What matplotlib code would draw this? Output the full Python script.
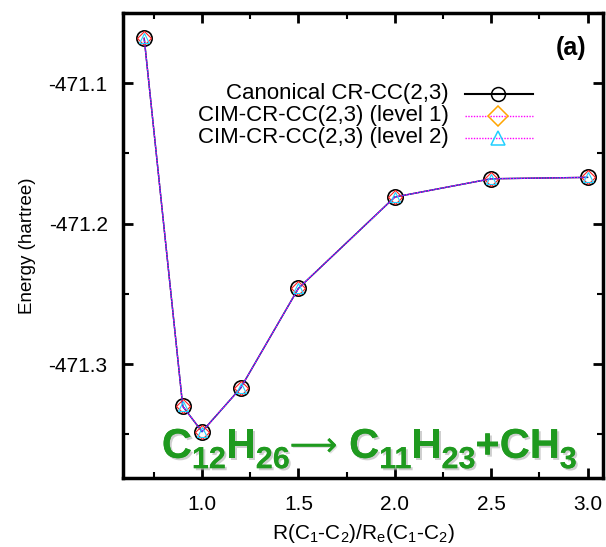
import matplotlib
matplotlib.use("Agg")
import matplotlib.pyplot as plt
import matplotlib.patheffects as pe
from matplotlib.ticker import MultipleLocator

plt.rcParams['font.family'] = ['Liberation Sans', 'DejaVu Sans']
plt.rcParams['mathtext.fontset'] = 'custom'
plt.rcParams['mathtext.rm'] = 'Liberation Sans'
plt.rcParams['mathtext.it'] = 'Liberation Sans:italic'
plt.rcParams['mathtext.bf'] = 'Liberation Sans:bold'

# bond stretch ratio R/Re
ratio = [0.7, 0.9, 1.0, 1.2, 1.5, 2.0, 2.5, 3.0]
# energies (hartree)
e_canonical = [-471.068, -471.330, -471.348, -471.317, -471.246, -471.181, -471.168, -471.167]
e_level1 = [-471.068, -471.330, -471.348, -471.317, -471.246, -471.181, -471.168, -471.167]
e_level2 = [-471.068, -471.330, -471.348, -471.317, -471.246, -471.181, -471.168, -471.167]

labels = ["Canonical CR-CC(2,3)", "CIM-CR-CC(2,3) (level 1)", "CIM-CR-CC(2,3) (level 2)"]

# reaction label pieces: (text, is_subscript)
reaction = [("C", False), ("12", True), ("H", False), ("26", True), ("\u27f6", False),
            (" C", False), ("11", True), ("H", False), ("23", True), ("+CH", False), ("3", True)]

fig = plt.figure(figsize=(6.06, 5.47), dpi=100)
ax = fig.add_axes([123/606, 1-478/547, 480/606, 465/547])

ax.plot(ratio, e_canonical, color='black', lw=1.0, marker='o', ms=11,
        mfc='none', mec='black', mew=1.2)
ax.plot(ratio, e_level1, color='#ff00ff', lw=1.0, ls=(0, (1, 1)), marker='D', ms=7,
        mfc='none', mec='#ff2020', mew=0.8)
ax.plot(ratio, e_level2, color='#3050ff', lw=1.0, ls=(1, (1, 1)), marker='^', ms=7,
        mfc='none', mec='#20d0ff', mew=0.8)

# legend drawn by hand: text right aligned, sample on the right
styles = [
    dict(color='black', lw=1.5, ls='-', marker='o', mec='black'),
    dict(color='#ff00ff', lw=1.0, ls=(0, (1, 1)), marker='D', mec='#ffa500'),
    dict(color='#ff00ff', lw=1.0, ls=(0, (1, 1)), marker='^', mec='#20d0ff'),
]
rows = [0.826, 0.779, 0.732]
for lab, st, yy in zip(labels, styles, rows):
    ax.text(0.679, yy, lab, transform=ax.transAxes, ha='right', va='center', fontsize=16)
    ax.plot([0.7125, 0.854], [yy, yy], transform=ax.transAxes, color=st['color'], lw=st['lw'], ls=st['ls'])
    ax.plot([0.781], [yy], transform=ax.transAxes, marker=st['marker'], ms=10,
            mfc='none', mec=st['mec'], mew=1.1, ls='none')

ax.text(0.965, 0.925, "(a)", transform=ax.transAxes, ha='right', va='center',
        fontsize=18, fontweight='bold')

# reaction label built piece by piece so the subscripts stay large
green = '#1f9a1f'
shadow = [pe.withSimplePatchShadow(offset=(1.5, -1.5), shadow_rgbFace='#b0b0b0', alpha=0.6), pe.Normal()]
big, small, drop = 30, 22, 6.0
prev = None
prev_sub = False
prev_arrow = False
for txt, sub in reaction:
    size = small if sub else big
    is_arrow = txt == '\u27f6'
    kw = dict(fontsize=size, color=green, path_effects=shadow, ha='left', va='bottom')
    if is_arrow:
        kw.update(family='DejaVu Sans', fontweight='normal', fontsize=24,
                  path_effects=[pe.withSimplePatchShadow(offset=(1, -1), shadow_rgbFace='#c0c0c0', alpha=0.5), pe.Normal()])
    else:
        kw.update(fontweight='bold')
    if prev is None:
        prev = ax.text(0.081, 0.024, txt, transform=ax.transAxes, **kw)
    else:
        dy = 0
        if sub and not prev_sub:
            dy = -drop
        elif prev_sub and not sub:
            dy = drop
        if is_arrow:
            dy += 3
        elif prev_arrow:
            dy -= 3
        prev = ax.annotate(txt, xy=(1, 0), xycoords=prev, xytext=(0, dy),
                           textcoords='offset points', **kw)
    prev_sub = sub
    prev_arrow = is_arrow

ax.set_xlim(0.59, 3.08)
ax.set_ylim(-471.381, -471.05)
ax.xaxis.set_major_locator(MultipleLocator(0.5))
ax.xaxis.set_minor_locator(MultipleLocator(0.25))
ax.yaxis.set_major_locator(MultipleLocator(0.1))
ax.yaxis.set_minor_locator(MultipleLocator(0.05))
ax.xaxis.set_major_formatter(plt.FuncFormatter(lambda v, p: f"{v:.1f}"))
ax.yaxis.set_major_formatter(plt.FuncFormatter(lambda v, p: f"{v:.1f}"))

ax.tick_params(which='both', direction='in', top=True, right=True, labelsize=15)
ax.tick_params(axis='y', pad=11)
ax.tick_params(axis='x', pad=12)
ax.tick_params(which='major', length=7, width=2)
ax.tick_params(which='minor', length=4, width=1.5)
for s in ax.spines.values():
    s.set_linewidth(2.5)

ax.set_xlabel(r'R(C$_1$-C$_2$)/R$_\mathrm{e}$(C$_1$-C$_2$)', fontsize=15, labelpad=6)
ax.set_ylabel('Energy (hartree)', fontsize=13.5, labelpad=9)

fig.savefig('out.png', dpi=100)
